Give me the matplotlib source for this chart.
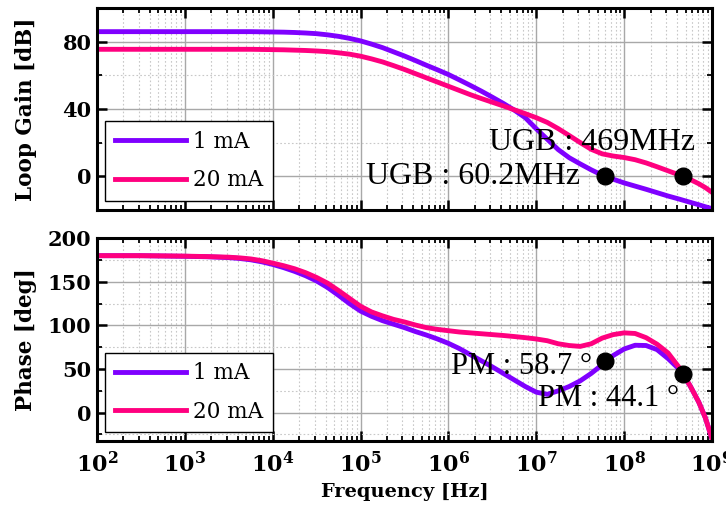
import numpy as np
import matplotlib
matplotlib.use("Agg")
import matplotlib.pyplot as plt
from matplotlib.ticker import (FixedLocator, LogLocator, MultipleLocator,
                               FuncFormatter, NullFormatter)

# ---- data -------------------------------------------------------------
# frequency points as decade exponents (Hz = 10**exp)
freq_exp = [2.0, 2.5, 3.0, 3.25, 3.5, 3.625, 3.75, 3.875, 4.0, 4.125, 4.25,
            4.375, 4.5, 4.625, 4.75, 4.875, 5.0, 5.125, 5.25, 5.375, 5.5,
            5.625, 5.75, 5.875, 6.0, 6.125, 6.25, 6.375, 6.5, 6.625, 6.75,
            6.875, 7.0, 7.125, 7.25, 7.375, 7.5, 7.625, 7.75, 7.875, 8.0,
            8.125, 8.25, 8.375, 8.5, 8.625, 8.75, 8.85, 8.925, 9.0]

gain_1mA = [86, 86, 86, 86, 86, 86, 86, 85.9, 85.8, 85.7, 85.5,
            85.2, 84.8, 84.1, 83.2, 82, 80.5, 78.6, 76.5, 74, 71.5,
            68.8, 66, 63.3, 60.5, 57.3, 54, 50.6, 47, 43.3, 39.3,
            34.8, 28.2, 22, 15.8, 11, 7.3, 3.8, 0.6, -1.8, -4,
            -5.9, -7.8, -9.8, -11.8, -13.6, -15.5, -17, -18.2, -19.3]

gain_20mA = [75.5, 75.5, 75.5, 75.5, 75.5, 75.5, 75.5, 75.4, 75.3, 75.2, 75,
             74.8, 74.5, 74.1, 73.4, 72.6, 71.4, 69.8, 68, 65.8, 63.5,
             61, 58.5, 56, 53.5, 51, 48.5, 46.2, 44, 41.8, 39.5,
             37.2, 34.8, 32, 28.3, 24.2, 20, 16, 13.3, 12, 11.1,
             9.8, 7.9, 5.6, 3.2, 0.8, -1.9, -4.5, -6.8, -9.6]

phase_1mA = [180, 180, 179.3, 178.8, 177.8, 176.8, 175.3, 173, 170, 166.3, 162,
             157, 151, 143.5, 134.5, 125, 116.5, 110.5, 105.5, 101.5, 97.5,
             93, 89, 84.5, 79.5, 73.5, 66.5, 59.5, 52.5, 45, 37.5,
             30, 23.5, 21, 25, 30, 36.5, 45, 55, 65.5, 73,
             77.3, 77, 72.3, 62, 50, 31, 12, -6, -30]

phase_20mA = [180, 180, 179.5, 179, 178.3, 177.5, 176.3, 174.3, 171.5, 168.5, 165,
              160.5, 155, 148.5, 140, 131, 122, 115.5, 111, 107, 104,
              100.5, 97.5, 95.5, 94, 92.5, 91.5, 90.5, 89.5, 88.5, 87.3,
              86, 84.5, 82.5, 79, 77, 76, 79, 85.5, 89.5, 91.5,
              90.8, 86, 78.5, 68.5, 52, 31, 12, -6, -30]

series_labels = ["1 mA", "20 mA"]
series_colors = ["#7F00FF", "#FF007F"]

# decade ticks on the frequency axis
decade_exp = [2, 3, 4, 5, 6, 7, 8, 9]

# unity-gain frequencies and phase margins
ugb_hz = [60.2e6, 469e6]
pm_deg = [58.7, 44.1]
ugb_text = ["UGB : 60.2MHz", "UGB : 469MHz"]
pm_text = ["PM : 58.7 °", "PM : 44.1 °"]

freq = 10.0 ** np.array(freq_exp)

# ---- styling ----------------------------------------------------------
plt.rcParams["mathtext.fontset"] = "dejavuserif"
label_font = dict(family="DejaVu Serif", weight="bold")
anno_font = dict(family="Liberation Serif")
LW = 3.5

fig = plt.figure(figsize=(7.26, 5.08), dpi=100)
fig.patch.set_facecolor("white")

ax1 = fig.add_axes([0.1336, 0.587, 0.8471, 0.397])
ax2 = fig.add_axes([0.1336, 0.131, 0.8471, 0.400])


def style_axis(ax):
    ax.set_xscale("log")
    ax.set_xlim(1e2, 1e9)
    ax.xaxis.set_major_locator(FixedLocator([10.0 ** e for e in decade_exp]))
    ax.xaxis.set_minor_locator(LogLocator(base=10, subs=np.arange(2, 10), numticks=100))
    ax.xaxis.set_minor_formatter(NullFormatter())
    ax.grid(True, which="major", color="#a8a8a8", linewidth=1.0, linestyle="-")
    ax.grid(True, which="minor", color="#c8c8c8", linewidth=0.8, linestyle=(0, (1.5, 2)))
    ax.set_axisbelow(True)
    ax.tick_params(which="both", direction="in", top=True, right=True)
    ax.tick_params(which="major", length=7, width=1.8)
    ax.tick_params(which="minor", length=3.5, width=1.3)
    ax.tick_params(axis="y", which="major", labelsize=15, pad=4)
    for s in ax.spines.values():
        s.set_linewidth(2.2)
    for lab in ax.get_yticklabels():
        lab.set_fontfamily("DejaVu Serif")
        lab.set_fontweight("bold")


def add_legend(ax):
    leg = ax.legend(loc="lower left", bbox_to_anchor=(0.013, 0.045), frameon=True,
                    fancybox=False, edgecolor="black", framealpha=1,
                    prop=dict(family="DejaVu Serif", size=15.5), handlelength=3.3,
                    borderpad=0.45, labelspacing=0.75, handletextpad=0.35,
                    borderaxespad=0)
    leg.get_frame().set_linewidth(1.0)
    for h in leg.get_lines():
        h.set_linewidth(LW)
    return leg


# ---- loop gain --------------------------------------------------------
ax1.plot(freq, gain_1mA, color=series_colors[0], lw=LW, label=series_labels[0])
ax1.plot(freq, gain_20mA, color=series_colors[1], lw=LW, label=series_labels[1])
ax1.plot(ugb_hz, [0, 0], "o", color="black", markersize=12, zorder=5)
ax1.set_ylim(-20, 100)
ax1.yaxis.set_major_locator(MultipleLocator(40))
ax1.yaxis.set_minor_locator(MultipleLocator(20))
style_axis(ax1)
ax1.tick_params(axis="x", labelbottom=False)
ax1.set_ylabel("Loop Gain [dB]", fontsize=15.5, **label_font)
ax1.yaxis.set_label_coords(-0.098, 0.5)

ax1.text(10 ** 7.50, 0, ugb_text[0], ha="right", va="center", fontsize=23, **anno_font)
ax1.text(10 ** 8.81, 20, ugb_text[1], ha="right", va="center", fontsize=23, **anno_font)
add_legend(ax1)

# ---- phase ------------------------------------------------------------
ax2.plot(freq, phase_1mA, color=series_colors[0], lw=LW, label=series_labels[0])
ax2.plot(freq, phase_20mA, color=series_colors[1], lw=LW, label=series_labels[1])
ax2.plot(ugb_hz, pm_deg, "o", color="black", markersize=12, zorder=5)
ax2.set_ylim(-33, 200)
ax2.yaxis.set_major_locator(MultipleLocator(50))
ax2.yaxis.set_minor_locator(MultipleLocator(25))
style_axis(ax2)
ax2.xaxis.set_major_formatter(
    FuncFormatter(lambda v, p: r"$\mathbf{10^{%d}}$" % int(round(np.log10(v)))))
ax2.tick_params(axis="x", which="major", labelsize=16, pad=7)
ax2.set_ylabel("Phase [deg]", fontsize=15.5, **label_font)
ax2.yaxis.set_label_coords(-0.098, 0.5)
ax2.set_xlabel("Frequency [Hz]", fontsize=14, labelpad=5, **label_font)

ax2.text(10 ** 7.64, 53, pm_text[0], ha="right", va="center", fontsize=22, **anno_font)
ax2.text(10 ** 8.63, 16, pm_text[1], ha="right", va="center", fontsize=22, **anno_font)
add_legend(ax2)

fig.savefig("out.png", dpi=100, facecolor="white")
